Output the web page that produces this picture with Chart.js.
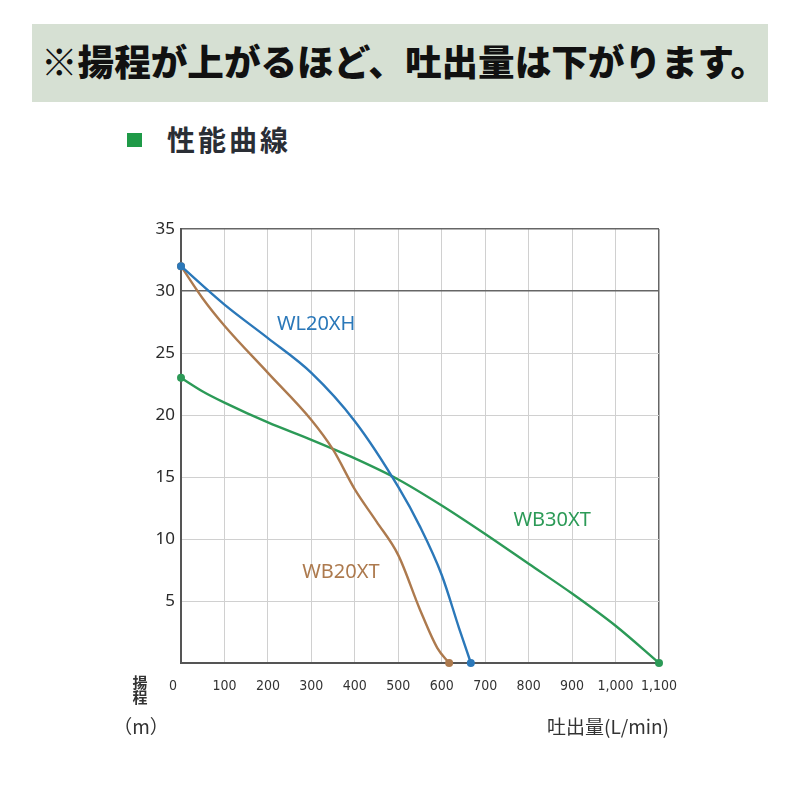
<!DOCTYPE html>
<html>
<head>
    <meta charset="UTF-8">
    <title>性能曲線</title>
    <script src="https://cdn.jsdelivr.net/npm/chart.js"></script>
    <style>
        body { margin: 0; background: #fff; width: 800px; height: 800px; position: relative; overflow: hidden; }
        .banner {
            position: absolute; left: 32px; top: 24px; width: 736px; height: 78px;
            background: #d6e0d3;
        }
        .banner span {
            position: absolute; left: 9px; top: 12px;
            font-family: "Noto Sans CJK JP", sans-serif; font-weight: 900;
            font-size: 36.6px; line-height: 50px; color: #111; white-space: nowrap;
        }
        .heading { position: absolute; left: 127px; top: 122px; height: 34px; }
        .heading .mark { position: absolute; left: 0; top: 11px; width: 15px; height: 14px; background: #1f9a48; }
        .heading span {
            position: absolute; left: 40px; top: 0;
            font-family: "Noto Sans CJK JP", sans-serif; font-weight: 700;
            font-size: 28px; line-height: 34px; letter-spacing: 3px; color: #2a2e35; white-space: nowrap;
        }
        #wrap { position: absolute; left: 0; top: 0; width: 800px; height: 800px; }
    </style>
</head>
<body>
<div class="banner"><span>※揚程が上がるほど、吐出量は下がります。</span></div>
<div class="heading"><div class="mark"></div><span>性能曲線</span></div>

<div id="wrap"><canvas id="curveChart" width="800" height="800"></canvas></div>

<script>
    // 吐出量 (L/min) と 揚程 (m) - グラフから読み取った値
    const wl20xhFlow = [0, 100, 200, 300, 400, 500, 550, 600, 640, 667];
    const wl20xhHead = [32, 28.9, 26.2, 23.4, 19.5, 14.2, 11.0, 7.1, 2.8, 0];

    const wb20xtFlow = [0, 50, 100, 200, 300, 350, 400, 450, 500, 550, 590, 617];
    const wb20xtHead = [32, 29.4, 27.2, 23.4, 19.6, 17.2, 14.0, 11.4, 8.7, 4.3, 1.2, 0];

    const wb30xtFlow = [0, 50, 100, 200, 300, 400, 500, 600, 700, 800, 900, 1000, 1100];
    const wb30xtHead = [23, 21.9, 21.0, 19.4, 18.0, 16.5, 14.8, 12.7, 10.4, 8.0, 5.6, 3.0, 0];

    const xTickLabels = ["0", "100", "200", "300", "400", "500", "600", "700", "800", "900", "1,000", "1,100"];
    const yTickLabels = ["", "5", "10", "15", "20", "25", "30", "35"];

    const seriesNames = ["WL20XH", "WB20XT", "WB30XT"];
    const seriesColors = ["#2b78b9", "#ad7a4e", "#2c9a57"];

    function toPoints(xs, ys) {
        return xs.map((x, i) => ({ x: x, y: ys[i] }));
    }

    function makeDataset(name, color, xs, ys) {
        return {
            label: name,
            data: toPoints(xs, ys),
            borderColor: color,
            backgroundColor: color,
            borderWidth: 2.4,
            fill: false,
            cubicInterpolationMode: 'monotone',
            // nur Anfangs- und Endpunkt markieren
            pointRadius: ctx => (ctx.dataIndex === 0 || ctx.dataIndex === xs.length - 1) ? 4 : 0,
            pointBorderWidth: 0,
            clip: false
        };
    }

    // Beschriftungen der Kurven und Achsentitel
    const labelPlugin = {
        id: 'curveLabels',
        afterDatasetsDraw(chart) {
            const ctx = chart.ctx;
            const xs = chart.scales.x, ys = chart.scales.y;
            const spots = [[311, 27.3], [368, 7.3], [854, 11.5]];
            ctx.save();
            ctx.font = '20px "Noto Sans", sans-serif';
            ctx.textAlign = 'center';
            ctx.textBaseline = 'middle';
            seriesNames.forEach((name, i) => {
                ctx.fillStyle = seriesColors[i];
                ctx.fillText(name, xs.getPixelForValue(spots[i][0]), ys.getPixelForValue(spots[i][1]));
            });

            ctx.fillStyle = '#333';
            ctx.font = 'bold 15px "Noto Sans CJK JP", sans-serif';
            const left = chart.chartArea.left, bottom = chart.chartArea.bottom;
            ctx.fillText('揚', left - 41, bottom + 19);
            ctx.fillText('程', left - 41, bottom + 34);
            ctx.font = '19px "Noto Sans CJK JP", sans-serif';
            ctx.fillText('（m）', left - 40, bottom + 64);
            ctx.textAlign = 'right';
            ctx.fillText('吐出量(L/min)', chart.chartArea.right + 10, bottom + 64);
            ctx.restore();
        }
    };

    const ctx = document.getElementById("curveChart").getContext("2d");
    new Chart(ctx, {
        type: 'line',
        data: {
            datasets: [
                makeDataset(seriesNames[0], seriesColors[0], wl20xhFlow, wl20xhHead),
                makeDataset(seriesNames[1], seriesColors[1], wb20xtFlow, wb20xtHead),
                makeDataset(seriesNames[2], seriesColors[2], wb30xtFlow, wb30xtHead)
            ]
        },
        options: {
            responsive: false,
            animation: false,
            layout: { padding: { left: 141, right: 141, top: 229, bottom: 97 } },
            plugins: { legend: { display: false }, tooltip: { enabled: false } },
            scales: {
                x: {
                    type: 'linear',
                    min: 0, max: 1100,
                    afterFit: scale => { scale.height = 40; },
                    grid: {
                        drawTicks: false,
                        color: c => c.tick.value === 1100 ? '#666' : '#d0d0d0',
                        lineWidth: c => c.tick.value === 1100 ? 1.5 : 1
                    },
                    border: { color: '#555', width: 2 },
                    ticks: {
                        stepSize: 100,
                        padding: 15,
                        maxRotation: 0,
                        minRotation: 0,
                        autoSkip: false,
                        color: '#333',
                        font: { family: '"DejaVu Sans Condensed", "DejaVu Sans", sans-serif', size: 14 },
                        callback: (v, i) => i === 0 ? xTickLabels[0] + '    ' : xTickLabels[i]
                    }
                },
                y: {
                    min: 0, max: 35,
                    afterFit: scale => { scale.width = 40; },
                    grid: {
                        drawTicks: false,
                        color: c => c.tick.value >= 30 ? '#666' : '#d0d0d0',
                        lineWidth: c => c.tick.value >= 30 ? 1.5 : 1
                    },
                    border: { color: '#555', width: 2 },
                    ticks: {
                        stepSize: 5,
                        padding: 6,
                        color: '#2a2a2a',
                        font: { family: '"Noto Sans", sans-serif', size: 17 },
                        callback: (v, i) => yTickLabels[i]
                    }
                }
            }
        },
        plugins: [labelPlugin]
    });
</script>
</body>
</html>
